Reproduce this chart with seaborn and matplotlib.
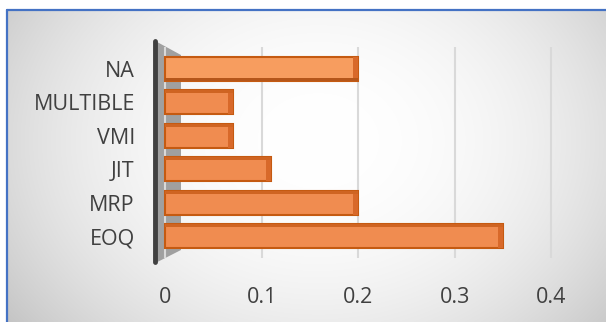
import numpy as np
import pandas as pd
import matplotlib
matplotlib.use("Agg")
import matplotlib.pyplot as plt
from matplotlib.patches import Polygon, Rectangle
import seaborn as sns

# ---- data ----
categories = ["NA", "MULTIBLE", "VMI", "JIT", "MRP", "EOQ"]
values = [0.20, 0.07, 0.07, 0.11, 0.20, 0.35]
tick_values = [0, 0.1, 0.2, 0.3, 0.4]
tick_labels = ["0", "0.1", "0.2", "0.3", "0.4"]

df = pd.DataFrame({"category": categories, "value": values})

sns.set_theme(style="white")
plt.rcParams["font.family"] = ["Open Sans", "DejaVu Sans"]

W, H = 606, 322
fig = plt.figure(figsize=(W / 100, H / 100), dpi=100)
fig.patch.set_facecolor("white")

# ---- background gradient (chart area) ----
bg = fig.add_axes([7 / W, 0, 1 - 7 / W, 1 - 10 / H])
bg.set_axis_off()
ny, nx = 200, 400
yy, xx = np.mgrid[0:1:ny * 1j, 0:1:nx * 1j]
cx, cy = 0.52, 0.42
d = np.sqrt(((xx - cx) / 0.66) ** 2 + ((yy - cy) / 1.0) ** 2)
val = 1.0 - 0.24 * np.clip(d, 0, 1) ** 2.2
img = np.dstack([val, val, val])
bg.imshow(img, aspect="auto", extent=[0, 1, 1, 0], interpolation="bilinear")
bg.set_xlim(0, 1)
bg.set_ylim(1, 0)

# blue border (top and left)
fig.add_artist(plt.Line2D([7 / W, 1], [1 - 10 / H, 1 - 10 / H], color="#4472C4", lw=1.6))
fig.add_artist(plt.Line2D([7 / W, 7 / W], [0, 1 - 10 / H], color="#4472C4", lw=1.6))

# ---- main axes ----
left, right, top, bottom = 157, 560, 47, 258
ax = fig.add_axes([left / W, 1 - bottom / H, (right - left) / W, (bottom - top) / H])
ax.patch.set_alpha(0)

# side wall (3D look)
wall = Polygon([(0, 1.024), (24 / 403, 0.962), (24 / 403, 0.038), (0, -0.02)],
               closed=True, transform=ax.transAxes, facecolor="#a0a0a0",
               edgecolor="none", zorder=0.5, clip_on=False)
ax.add_patch(wall)

sns.barplot(data=df, x="value", y="category", order=categories, orient="h",
            color="#F08C50", saturation=1, width=0.72, ax=ax, zorder=3,
            edgecolor="#C55A11", linewidth=1.5)

# 3D shading on each bar, derived from the drawn bar geometry
bars = [p for p in ax.patches if isinstance(p, Rectangle) and p.get_width() > 0]
for i, p in enumerate(bars):
    x0, y0 = p.get_x(), p.get_y()
    w, h = p.get_width(), p.get_height()
    cap = 0.005
    ax.add_patch(Rectangle((x0 + w - cap, y0), cap, h, facecolor="#D8692A",
                           edgecolor="none", zorder=3.5))
    strip = 0.13 * h
    if i == 0:
        # top bar: face lighter, dark strip at bottom (seen from below)
        p.set_facecolor("#F79D5F")
        ax.add_patch(Rectangle((x0, y0 + h - strip), w, strip, facecolor="#B5561A",
                               edgecolor="none", zorder=3.5))
    else:
        ax.add_patch(Rectangle((x0, y0), w, strip, facecolor="#CF6422",
                               edgecolor="none", zorder=3.5))

ax.set_xlim(-0.0083, 0.409)
ax.set_xticks(tick_values)
ax.set_xticklabels(tick_labels)
ax.set_xlabel("")
ax.set_ylabel("")

ax.grid(axis="x", color="#d9d9d9", lw=1.5, zorder=0)
ax.grid(axis="y", visible=False)
ax.set_axisbelow(True)

for s in ["top", "right", "bottom", "left"]:
    ax.spines[s].set_visible(False)
ax.plot([-2 / 403, -2 / 403], [-0.02, 1.03], transform=ax.transAxes,
        color="#404040", lw=3.5, clip_on=False, zorder=4, solid_capstyle="round")

ax.tick_params(axis="x", length=0, pad=21, labelsize=15.5, labelcolor="#404040")
ax.tick_params(axis="y", length=0, pad=16, labelsize=15.5, labelcolor="#404040")

fig.savefig("out.png", dpi=100)
